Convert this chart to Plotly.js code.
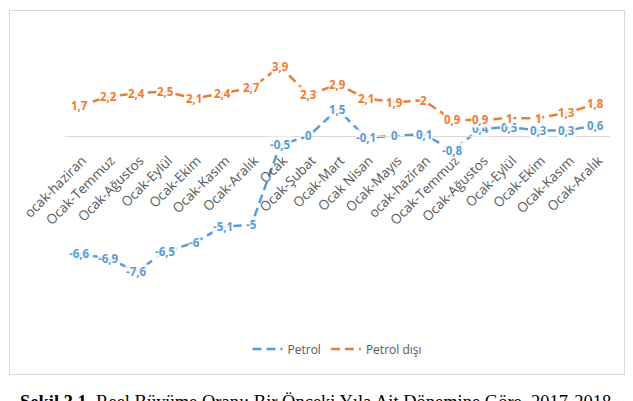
<!DOCTYPE html>
<html>
<head>
<meta charset="utf-8">
<script src="https://cdn.plot.ly/plotly-3.0.1.min.js"></script>
<style>
  html, body { margin: 0; padding: 0; background: #fff; }
  #wrap { position: relative; width: 633px; height: 401px; overflow: hidden; background: #fff; }
  #frame { position: absolute; left: 9px; top: 10px; width: 614px; height: 363px; border: 1px solid #d9d9d9; }
  #chart { position: absolute; left: 0; top: 0; width: 633px; height: 401px; }
  #caption { position: absolute; left: 20px; top: 393px; white-space: nowrap;
             font-family: "Liberation Serif", "DejaVu Serif", serif; font-size: 18.5px; line-height: 1; color: #000; }
</style>
</head>
<body>
<div id="wrap">
  <div id="frame"></div>
  <div id="chart"></div>
  <div id="caption"><b>Şekil 3.1.</b> Reel Büyüme Oranı: Bir Önceki Yıla Ait Dönemine Göre, 2017-2018</div>
</div>
<script>
var categories = ["ocak-haziran", "Ocak-Temmuz", "Ocak-Ağustos", "Ocak-Eylül", "Ocak-Ekim", "Ocak-Kasım", "Ocak-Aralık",
                  "Ocak", "Ocak-Şubat", "Ocak-Mart", "Ocak Nisan", "Ocak-Mayıs", "ocak-haziran", "Ocak-Temmuz",
                  "Ocak-Ağustos", "Ocak-Eylül", "Ocak-Ekim", "Ocak-Kasım", "Ocak-Aralık"];
var petrol = [-6.6, -6.9, -7.6, -6.5, -6, -5.1, -5, -0.5, 0, 1.5, -0.1, 0, 0.1, -0.8, 0.4, 0.5, 0.3, 0.3, 0.6];
var petrolDisi = [1.7, 2.2, 2.4, 2.5, 2.1, 2.4, 2.7, 3.9, 2.3, 2.9, 2.1, 1.9, 2, 0.9, 0.9, 1, 1, 1.3, 1.8];
var seriesNames = ["Petrol", "Petrol dışı"];
var seriesColors = ["#5B9BD5", "#ED7D31"];

var idx = categories.map(function (c, i) { return i; });
var series = [petrol, petrolDisi];

var traces = series.map(function (vals, s) {
  return {
    type: "scatter", mode: "lines", name: seriesNames[s], x: idx, y: vals,
    line: { color: seriesColors[s], width: 2.5, dash: "9px,5px" },
    hoverinfo: "skip"
  };
});

function fmt(v) { return String(v).replace(".", ","); }

var annotations = [];
series.forEach(function (vals, s) {
  vals.forEach(function (v, i) {
    annotations.push({
      x: idx[i], y: v, xref: "x", yref: "y", text: fmt(v), showarrow: false,
      xanchor: "center", yanchor: "middle", bgcolor: "rgba(255,255,255,0.85)", borderpad: 0,
      font: { family: "Open Sans, sans-serif", size: 11.5, weight: 700, color: seriesColors[s] }
    });
  });
});

var yMin = -7.98, yMax = 4.49;

var layout = {
  width: 633, height: 401,
  margin: { l: 65, r: 23, t: 56, b: 123 },
  paper_bgcolor: "rgba(0,0,0,0)", plot_bgcolor: "rgba(0,0,0,0)",
  showlegend: true,
  legend: {
    orientation: "h", x: 0.5, xanchor: "center", y: -0.32, yanchor: "middle",
    font: { family: "Open Sans, sans-serif", size: 12, color: "#595959" }
  },
  xaxis: {
    range: [-0.5, categories.length - 0.5],
    tickmode: "array", tickvals: idx, ticktext: categories,
    tickangle: -45, anchor: "free", position: (0 - yMin) / (yMax - yMin),
    ticklabelstandoff: 10, ticklabelshift: 3,
    showline: true, linecolor: "#d9d9d9", linewidth: 1.5,
    showgrid: false, zeroline: false, ticks: "",
    tickfont: { family: "Open Sans, sans-serif", size: 13.5, color: "#595959" }
  },
  yaxis: {
    range: [yMin, yMax], showgrid: false, zeroline: false, showticklabels: false, showline: false, ticks: ""
  },
  annotations: annotations
};

Plotly.newPlot("chart", traces, layout, { displayModeBar: false, staticPlot: true });
</script>
</body>
</html>
